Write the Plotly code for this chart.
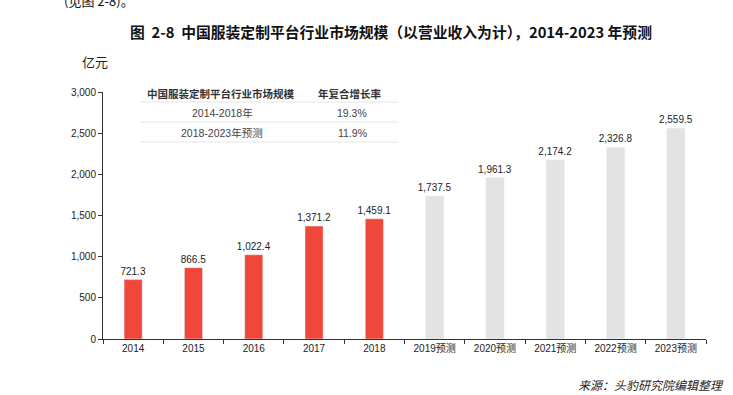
import plotly.graph_objects as go

categories = ["2014", "2015", "2016", "2017", "2018",
              "2019预测", "2020预测", "2021预测", "2022预测", "2023预测"]
values = [721.3, 866.5, 1022.4, 1371.2, 1459.1, 1737.5, 1961.3, 2174.2, 2326.8, 2559.5]
colors = ["#f0473b"] * 5 + ["#e3e3e3"] * 5
labels = [f"{v:,.1f}" for v in values]

table_header = ["中国服装定制平台行业市场规模", "年复合增长率"]
table_rows = [["2014-2018年", "19.3%"], ["2018-2023年预测", "11.9%"]]

W, H = 733, 395
L, R, T, B = 103, 706, 92, 339

def px(x):
    return (x - L) / (R - L)

def py(y):
    return (B - y) / (B - T)

font_num = "Liberation Sans, Arial, Noto Sans CJK SC"
font_cjk = "Noto Sans CJK SC"

fig = go.Figure(go.Bar(
    x=categories, y=values, marker_color=colors, width=0.3,
    text=labels, textposition="outside", cliponaxis=False, constraintext="none",
    textfont=dict(size=10, color="#222", family=font_num),
))

def note(text, x, y, size, color="#222", family=font_cjk, xanchor="center"):
    return dict(text=text, x=px(x), y=py(y), xref="paper", yref="paper",
                xanchor=xanchor, yanchor="middle", showarrow=False,
                font=dict(size=size, color=color, family=family))

ann = [
    note("<b>图  2-8  中国服装定制平台行业市场规模（以营业收入为计），2014-2023 年预测</b>", 391, 32, 14.8, "#111"),
    note("(见图 2-8)。", 62, 1, 13, "#111", xanchor="left"),
    note("亿元", 80, 62, 13, "#222", xanchor="left"),
    note("<b>" + table_header[0] + "</b>", 220, 93, 10.5, "#333"),
    note("<b>" + table_header[1] + "</b>", 350, 93, 10.5, "#333"),
]
for i, (a, b) in enumerate(table_rows):
    yy = 113 + i * 20
    ann.append(note(a, 222, yy, 10.5, "#444", family=font_num))
    ann.append(note(b, 352, yy, 10.5, "#444", family=font_num))
ann.append(note("<i>来源：头豹研究院编辑整理</i>", 726, 384, 12, "#222", xanchor="right"))

shapes = []
for yy in [102, 122, 142]:
    shapes.append(dict(type="line", xref="paper", yref="paper",
                       x0=px(140), x1=px(398), y0=py(yy), y1=py(yy),
                       line=dict(color="#e6e6e6", width=1)))

fig.update_layout(
    width=W, height=H,
    margin=dict(l=L, r=W - R, t=T, b=H - B),
    paper_bgcolor="white", plot_bgcolor="white",
    showlegend=False,
    annotations=ann, shapes=shapes,
    xaxis=dict(showline=True, linecolor="#333", linewidth=1, ticks="outside",
               tickson="boundaries", ticklen=4, tickcolor="#333",
               tickfont=dict(size=10, color="#222", family=font_num),
               showgrid=False),
    yaxis=dict(range=[0, 3000], dtick=500, tickformat=",", showline=True,
               linecolor="#333", linewidth=1, ticks="outside", ticklen=4,
               tickcolor="#333", showgrid=False, zeroline=False,
               tickfont=dict(size=10, color="#222", family=font_num)),
)

fig.write_html("out.html", config={"displayModeBar": False},
               post_script="document.body.style.margin='0';")
